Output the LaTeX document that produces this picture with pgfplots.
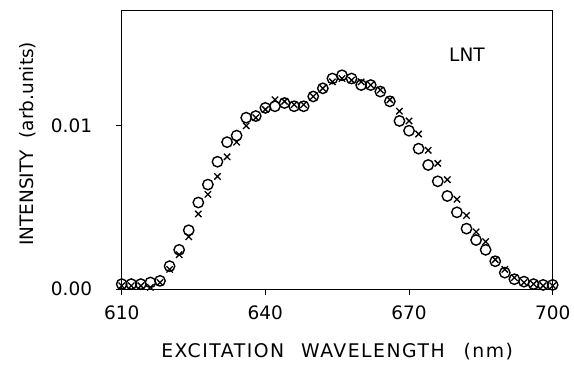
\documentclass[border=0pt]{standalone}
\usepackage{pgfplots}
\pgfplotsset{compat=1.18}
\usepackage{fontspec}
\setmainfont{DejaVu Sans}
\newfontfamily\xlabfont[LetterSpace=8]{DejaVu Sans}
\begin{document}
\begin{tikzpicture}
\begin{axis}[
  scale only axis,
  width=431pt, height=279pt,
  xmin=610, xmax=700, ymin=0, ymax=0.0171,
  axis line style={line width=0.9pt},
  xtick={610,640,670,700},
  ytick={0,0.01}, yticklabels={0.00,0.01},
  scaled y ticks=false,
  tick align=outside,
  major tick length=6pt,
  tick style={line width=0.9pt, black},
  xtick pos=bottom, ytick pos=left,
  /pgf/number format/assume math mode=true,
  ticklabel style={font=\fontsize{18.5}{20}\selectfont},
  xticklabel style={yshift=-7pt},
  yticklabel style={xshift=-20pt},
  xlabel={EXCITATION\hspace{17pt}WAVELENGTH\hspace{19pt}(nm)},
  ylabel={INTENSITY\ \ (arb.units)},
  label style={font=\fontsize{18.5}{20}\selectfont},
  xlabel style={font=\xlabfont\fontsize{18.8}{20}\selectfont, at={(axis description cs:0.5,-0.247)}, anchor=base},
  ylabel style={at={(axis description cs:-0.218,0.52)}, anchor=center},
  clip=false,
]
\addplot[only marks, mark=o, mark size=5.2pt, line width=1.4pt, black] coordinates {
(610,0.0003) (612,0.0003) (614,0.0003) (616,0.0004) (618,0.0005)
(620,0.0014) (622,0.0024) (624,0.0036) (626,0.0053) (628,0.0064)
(630,0.0078) (632,0.0090) (634,0.0094) (636,0.0105) (638,0.0106)
(640,0.0111) (642,0.0112) (644,0.0114) (646,0.0112) (648,0.0112)
(650,0.0118) (652,0.0123) (654,0.0129) (656,0.0131) (658,0.0129)
(660,0.0125) (662,0.0125) (664,0.0121) (666,0.0115) (668,0.0103)
(670,0.0097) (672,0.0086) (674,0.0076) (676,0.0066) (678,0.0057)
(680,0.0047) (682,0.0037) (684,0.0030) (686,0.0024) (688,0.0017)
(690,0.0010) (692,0.0006) (694,0.00045) (696,0.0003) (698,0.00025)
(700,0.00025)
};
\addplot[only marks, mark=x, mark size=4.5pt, line width=1.3pt, black] coordinates {
(610,0.0002) (612,0.0002) (614,0.0002) (616,0.0001) (618,0.0004)
(620,0.0012) (622,0.0021) (624,0.0032) (626,0.0046) (628,0.0058)
(630,0.0069) (632,0.0081) (634,0.0090) (636,0.0100) (638,0.0105)
(640,0.0110) (642,0.0116) (644,0.0115) (646,0.0113) (648,0.0113)
(650,0.0118) (652,0.0123) (654,0.0127) (656,0.0129) (658,0.0128)
(660,0.0127) (662,0.0125) (664,0.0122) (666,0.0116) (668,0.0109)
(670,0.0103) (672,0.0095) (674,0.0085) (676,0.0077) (678,0.0067)
(680,0.0055) (682,0.0045) (684,0.0035) (686,0.0029) (688,0.0018)
(690,0.0012) (692,0.0007) (694,0.0004) (696,0.0003) (698,0.0002)
(700,0.0002)
};
\node[font=\fontsize{18.5}{20}\selectfont] at (axis description cs:0.801,0.838) {LNT};
\end{axis}
\path[use as bounding box] (current axis.south west) ++(-121.7pt,-77pt) rectangle ++(574pt,366pt);
\end{tikzpicture}
\end{document}
